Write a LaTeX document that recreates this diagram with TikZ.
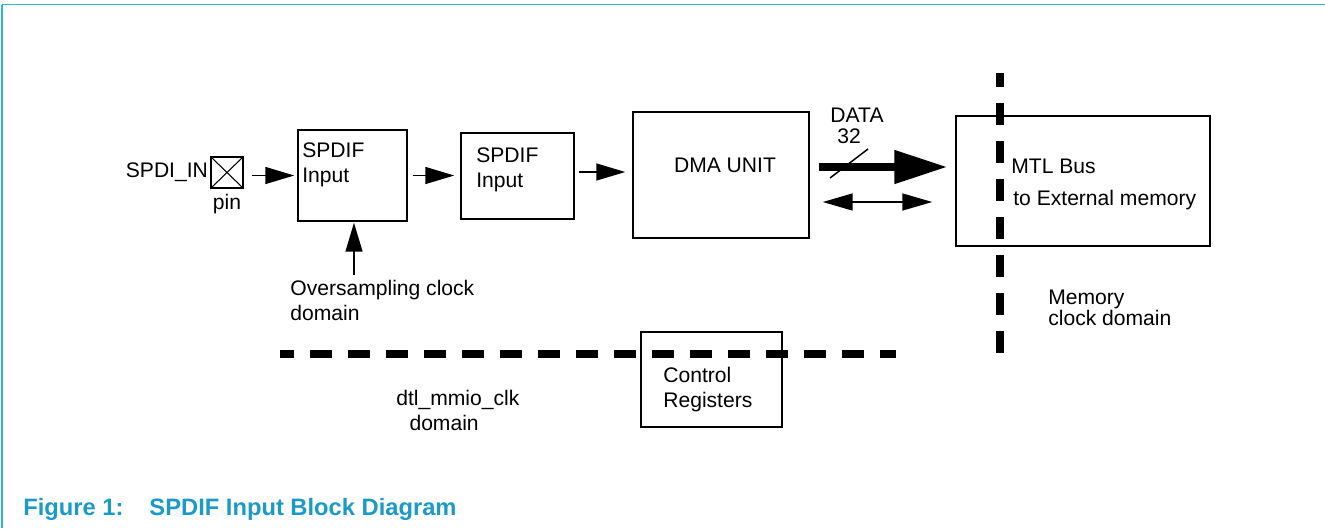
\documentclass[tikz,border=0pt]{standalone}
\usepackage{fontspec}
\setmainfont{Liberation Sans}
\usepackage{xcolor}
\usepackage{tikz}
\usetikzlibrary{arrows.meta,positioning}
\definecolor{framecyan}{HTML}{2CB4D4}
\definecolor{captionblue}{HTML}{1B9AC8}
\tikzset{
  blockbox/.style={
    draw,
    line width=0.85pt,
    inner sep=0pt
  },
  blocktext/.style={
    font=\fontsize{12}{14.2}\selectfont,
    align=left,
    inner sep=0pt
  },
  sigarrow/.style={
    -{Triangle[length=0.58cm,width=0.34cm]},
    line width=0.85pt
  },
  botharrow/.style={
    {Triangle[length=0.6cm,width=0.34cm]}-{Triangle[length=0.6cm,width=0.34cm]},
    line width=0.85pt
  },
  busarrow/.style={
    -{Triangle[length=1.06cm,width=0.64cm]},
    line width=0.16cm
  },
  domainline/.style={
    line width=0.15cm,
    dash pattern=on 0.44cm off 0.32cm,
    dash phase=0.16cm
  }
}

\begin{document}
\begin{tikzpicture}[x=0.02cm,y=-0.02cm]
    \useasboundingbox (0,0) rectangle (1325,528);
    \draw[framecyan, line width=1.1pt] (1325,4.5) -- (2,4.5);
    \draw[framecyan, line width=0.6pt] (2,4.5) -- (2,528);

    \node[blockbox, minimum width=0.64cm, minimum height=0.62cm] (pin) at (227,172.5) {};
    \draw[line width=0.6pt] (pin.north west) -- (pin.south east);
    \draw[line width=0.6pt] (pin.south west) -- (pin.north east);
    \node[blocktext, left=0.04cm of pin] (spdiin) {SPDI\_IN};
    \node[blocktext, below=0.1cm of pin] (pinlbl) {pin};

    \node[blockbox, minimum width=2.18cm, minimum height=1.82cm] (box1) at (352.5,175.5) {};
    \node[blocktext, anchor=west] (box1txt) at (302,164.5) {SPDIF\\Input};
    \node[blockbox, minimum width=2.26cm, minimum height=1.72cm] (box2) at (517.5,176) {};
    \node[blocktext, anchor=west] (box2txt) at (476,170) {SPDIF\\Input};
    \node[blockbox, minimum width=3.52cm, minimum height=2.52cm] (dma) at (721,175) {};
    \node[blocktext] (dmatxt) at (725,165) {DMA UNIT};
    \node[blockbox, minimum width=5.08cm, minimum height=2.6cm] (mtl) at (1083,181) {};
    \node[blocktext, anchor=west] (mtltxt) at (1011,166) {MTL Bus};
    \node[blocktext, anchor=west] (exttxt) at (1013,200) {to External memory};
    \node[blockbox, minimum width=2.82cm, minimum height=1.9cm] (ctrl) at (711.5,379.5) {};
    \node[blocktext, anchor=west] (ctrltxt) at (663,389.5) {Control\\Registers};

    \node[blocktext] (datalbl) at (857,115) {DATA};
    \node[blocktext] (widthlbl) at (849,136) {32};
    \node[blocktext, anchor=west] (osclbl) at (290,300.5) {Oversampling clock\\domain};
    \node[blocktext, anchor=west, font=\fontsize{12}{10.5}\selectfont] (memlbl) at (1048,308) {Memory\\clock domain};
    \node[blocktext, anchor=west] (dtllbl) at (396,410.5) {dtl\_mmio\_clk\\\hspace*{7.5pt}domain};

    \coordinate (oscsrc) at (354,275);
    \coordinate (datay) at (0,167);
    \coordinate (ctly) at (0,202);

    \draw[sigarrow, shorten <=0.16cm, shorten >=0.06cm] (pin.east |- box1) -- (box1.west);
    \draw[sigarrow, shorten <=0.1cm, shorten >=0.12cm] (box1.east) -- (box1.east -| box2.west);
    \draw[sigarrow, shorten <=0.08cm, shorten >=0.14cm] (box2.east |- 0,172) -- (dma.west |- 0,172);
    \draw[sigarrow, shorten >=0.02cm] (oscsrc) -- (oscsrc |- box1.south);
    \draw[busarrow, shorten <=0.18cm, shorten >=0.16cm] (dma.east |- datay) -- (mtl.west |- datay);
    \draw[line width=0.85pt] (830,178) -- (868,149);
    \draw[botharrow, shorten <=0.26cm, shorten >=0.46cm] (dma.east |- ctly) -- (mtl.west |- ctly);

    \draw[domainline] (1000,73) -- (1000,368);
    \draw[domainline] (280,354) -- (896,354);

    \node[anchor=west, inner sep=0pt, text=captionblue, font=\fontsize{13.5}{15}\selectfont\bfseries] (caption) at (23,509) {Figure 1:\hspace*{0.52cm}SPDIF Input Block Diagram};
\end{tikzpicture}
\end{document}
